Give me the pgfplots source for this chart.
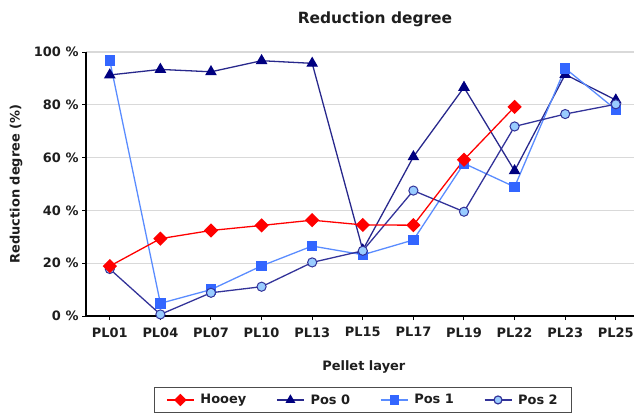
\documentclass[border=0pt]{standalone}
\usepackage{pgfplots}
\pgfplotsset{compat=1.18}
\usepackage{fontspec}
\setmainfont{DejaVu Sans}
\definecolor{hooey}{RGB}{255,0,0}
\definecolor{pzero}{RGB}{0,0,128}
\definecolor{pzeroline}{RGB}{40,40,140}
\definecolor{pone}{RGB}{51,102,255}
\definecolor{poneline}{RGB}{90,140,255}
\definecolor{ptwofill}{RGB}{153,204,255}
\definecolor{ptwoline}{RGB}{51,51,153}
\definecolor{txt}{RGB}{30,30,30}
\begin{document}
\begin{tikzpicture}[x=1bp,y=1bp]
\useasboundingbox (0,0) rectangle (634,415);
\begin{axis}[
  at={(86bp,99bp)}, anchor=south west,
  scale only axis, width=548bp, height=264bp,
  xmin=-0.47, xmax=10.36, ymin=0, ymax=100,
  xtick={0,...,10},
  xticklabels={PL01,PL04,PL07,PL10,PL13,PL15,PL17,PL19,PL22,PL23,PL25},
  ytick={0,20,40,60,80,100},
  yticklabel={\pgfmathprintnumber{\tick} \%},
  /pgf/number format/assume math mode=true,
  ticklabel style={font=\bfseries\fontsize{13}{15}\selectfont, text=txt},
  xticklabel style={yshift=-4bp},
  axis x line*=bottom, axis y line*=left,
  axis line style={black, line width=1.6pt, -},
  tick style={black, line width=1pt},
  tick align=outside, major tick length=4bp,
  ymajorgrids, grid style={gray!30, line width=1.2pt},
  xlabel={Pellet layer}, ylabel={Reduction degree (\%)},
  label style={font=\bfseries\fontsize{13}{15}\selectfont, text=txt},
  xlabel style={at={(axis description cs:0.507,-0.193)}, anchor=center},
  ylabel style={at={(axis description cs:-0.1277,0.5)}, anchor=center},
  legend columns=4,
  legend image code/.code={\draw[mark repeat=2,mark phase=2,#1] plot coordinates {(0bp,0bp) (13.5bp,0bp) (27bp,0bp)};},
  legend style={at={(277bp,-71bp)}, anchor=north, draw=black!70, line width=0.8pt,
    font=\bfseries\fontsize{13}{15}\selectfont, text=txt, inner xsep=12bp, inner ysep=5bp,
    /tikz/every odd column/.append style={column sep=4bp},
    /tikz/every even column/.append style={column sep=28bp}},
  legend cell align=left,
  clip=false,
]
\addlegendimage{hooey, line width=1.2pt, mark=square*, mark size=3.8, mark options={rotate=45, fill=hooey, draw=hooey}}
\addlegendentry{Hooey}
\addlegendimage{pzeroline, line width=1.2pt, mark=triangle*, mark size=4.5, mark options={fill=pzero, draw=pzero}}
\addlegendentry{Pos 0}
\addlegendimage{poneline, line width=1.2pt, mark=square*, mark size=4, mark options={fill=pone, draw=pone}}
\addlegendentry{Pos 1}
\addlegendimage{ptwoline, line width=1.2pt, mark=*, mark size=4, mark options={fill=ptwofill, draw=ptwoline}}
\addlegendentry{Pos 2}

\addplot[forget plot, pzeroline, line width=1.3pt, mark=triangle*, mark size=5.5, mark options={fill=pzero, draw=pzero}] coordinates {
(0,91.3) (1,93.4) (2,92.5) (3,96.7) (4,95.7) (5,25.0) (6,60.3) (7,86.6) (8,55.0) (9,91.5) (10,81.8)};
\addplot[forget plot, poneline, line width=1.3pt, mark=square*, mark size=4.6, mark options={fill=pone, draw=pone}] coordinates {
(0,96.7) (1,4.8) (2,10.0) (3,19.0) (4,26.5) (5,23.2) (6,28.8) (7,57.8) (8,48.9) (9,93.8) (10,78.2)};
\addplot[forget plot, ptwoline, line width=1.3pt, mark=*, mark size=4.6, mark options={fill=ptwofill, draw=ptwoline, line width=1pt}] coordinates {
(0,17.8) (1,0.6) (2,8.8) (3,11.1) (4,20.3) (5,24.7) (6,47.5) (7,39.5) (8,71.8) (9,76.5) (10,80.2)};
\addplot[forget plot, hooey, line width=1.3pt, mark=square*, mark size=4.4, mark options={rotate=45, fill=hooey, draw=hooey}] coordinates {
(0,18.9) (1,29.3) (2,32.4) (3,34.3) (4,36.3) (5,34.5) (6,34.4) (7,59.2) (8,79.2)};
\end{axis}
\node[font=\bfseries\fontsize{15.5}{18}\selectfont, text=txt] at (375,396) {Reduction degree};
\end{tikzpicture}
\end{document}
